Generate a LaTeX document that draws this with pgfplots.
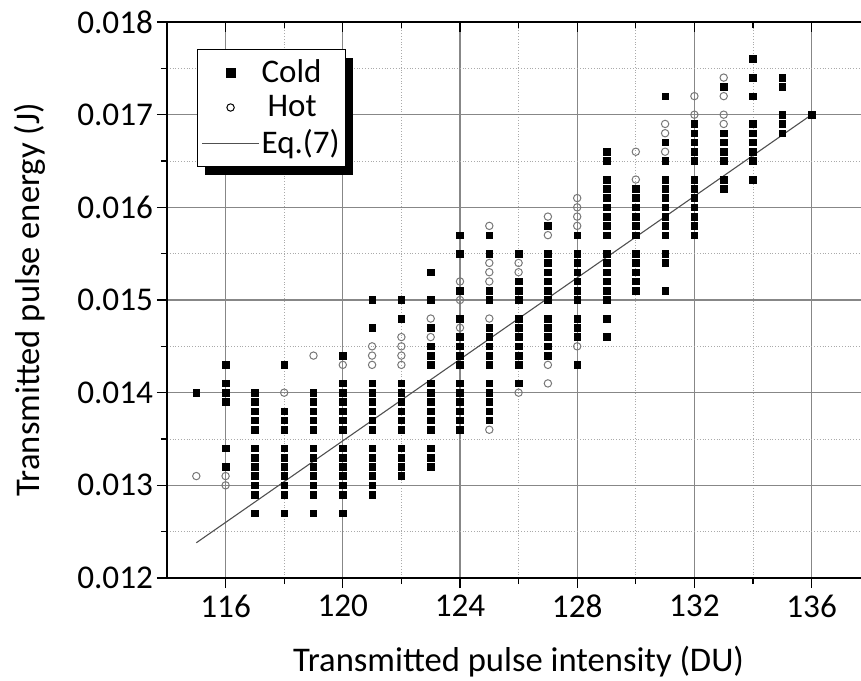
\documentclass[border=0pt]{standalone}
\usepackage{fontspec}
\setmainfont{Carlito}
\usepackage{pgfplots}
\pgfplotsset{compat=1.18}
\usepackage{pgfplotstable}
\usetikzlibrary{shadows}
\makeatletter
\tikzset{nopre/.code={\let\tikz@preactions\pgfutil@empty}}
\makeatother

\pgfplotstableread{
x y
115 0.0140
116 0.0143
116 0.0141
116 0.0140
116 0.0139
116 0.0134
116 0.0132
117 0.0140
117 0.0139
117 0.0138
117 0.0137
117 0.0136
117 0.0134
117 0.0133
117 0.0132
117 0.0131
117 0.0130
117 0.0129
117 0.0127
118 0.0143
118 0.0138
118 0.0137
118 0.0136
118 0.0134
118 0.0133
118 0.0132
118 0.0131
118 0.0130
118 0.0129
118 0.0127
119 0.0140
119 0.0139
119 0.0138
119 0.0137
119 0.0136
119 0.0134
119 0.0133
119 0.0132
119 0.0131
119 0.0130
119 0.0129
119 0.0127
120 0.0144
120 0.0141
120 0.0140
120 0.0139
120 0.0138
120 0.0137
120 0.0136
120 0.0134
120 0.0133
120 0.0132
120 0.0131
120 0.0130
120 0.0129
120 0.0127
121 0.0150
121 0.0147
121 0.0141
121 0.0140
121 0.0139
121 0.0138
121 0.0137
121 0.0136
121 0.0134
121 0.0133
121 0.0132
121 0.0131
121 0.0130
121 0.0129
122 0.0150
122 0.0148
122 0.0141
122 0.0140
122 0.0139
122 0.0138
122 0.0137
122 0.0136
122 0.0134
122 0.0133
122 0.0132
122 0.0131
123 0.0153
123 0.0150
123 0.0147
123 0.0145
123 0.0144
123 0.0143
123 0.0141
123 0.0140
123 0.0139
123 0.0138
123 0.0137
123 0.0136
123 0.0134
123 0.0133
123 0.0132
124 0.0157
124 0.0155
124 0.0151
124 0.0148
124 0.0146
124 0.0145
124 0.0144
124 0.0143
124 0.0141
124 0.0140
124 0.0139
124 0.0138
124 0.0137
124 0.0136
125 0.0157
125 0.0155
125 0.0151
125 0.0150
125 0.0147
125 0.0146
125 0.0145
125 0.0144
125 0.0143
125 0.0141
125 0.0140
125 0.0139
125 0.0138
125 0.0137
126 0.0155
126 0.0152
126 0.0151
126 0.0150
126 0.0148
126 0.0147
126 0.0146
126 0.0145
126 0.0144
126 0.0143
126 0.0141
127 0.0158
127 0.0155
127 0.0154
127 0.0153
127 0.0152
127 0.0151
127 0.0150
127 0.0148
127 0.0147
127 0.0146
127 0.0145
127 0.0144
128 0.0157
128 0.0155
128 0.0154
128 0.0153
128 0.0152
128 0.0151
128 0.0150
128 0.0148
128 0.0147
128 0.0146
128 0.0143
129 0.0166
129 0.0165
129 0.0163
129 0.0162
129 0.0161
129 0.0160
129 0.0159
129 0.0158
129 0.0157
129 0.0155
129 0.0154
129 0.0153
129 0.0152
129 0.0151
129 0.0150
129 0.0148
129 0.0146
130 0.0162
130 0.0161
130 0.0160
130 0.0159
130 0.0158
130 0.0157
130 0.0155
130 0.0154
130 0.0153
130 0.0152
130 0.0151
131 0.0172
131 0.0167
131 0.0165
131 0.0163
131 0.0162
131 0.0161
131 0.0160
131 0.0159
131 0.0158
131 0.0157
131 0.0155
131 0.0154
131 0.0151
132 0.0169
132 0.0168
132 0.0167
132 0.0166
132 0.0165
132 0.0163
132 0.0162
132 0.0161
132 0.0160
132 0.0159
132 0.0158
132 0.0157
133 0.0173
133 0.0168
133 0.0167
133 0.0166
133 0.0165
133 0.0163
133 0.0162
134 0.0176
134 0.0174
134 0.0172
134 0.0169
134 0.0168
134 0.0167
134 0.0166
134 0.0165
134 0.0163
135 0.0174
135 0.0173
135 0.0170
135 0.0169
135 0.0168
136 0.0170
}\cold

\pgfplotstableread{
x y
115 0.0131
116 0.0131
116 0.0130
118 0.0140
119 0.0144
120 0.0143
121 0.0145
121 0.0144
121 0.0143
122 0.0146
122 0.0145
122 0.0144
122 0.0143
123 0.0148
123 0.0146
124 0.0152
124 0.0150
124 0.0147
125 0.0158
125 0.0154
125 0.0153
125 0.0152
125 0.0148
125 0.0136
126 0.0154
126 0.0153
126 0.0140
127 0.0159
127 0.0157
127 0.0143
127 0.0141
128 0.0161
128 0.0160
128 0.0159
128 0.0158
128 0.0145
130 0.0166
130 0.0163
131 0.0169
131 0.0168
131 0.0166
132 0.0172
132 0.0170
133 0.0174
133 0.0172
133 0.0170
133 0.0169
}\hot

\pgfplotstableread{
x y
115 0.01238
136 0.01700
}\eqseven

\definecolor{majgrid}{RGB}{135,135,135}
\definecolor{mingrid}{RGB}{170,170,170}
\definecolor{hotgray}{RGB}{120,120,120}
\definecolor{fitline}{RGB}{80,80,80}

\begin{document}
\begin{tikzpicture}
\begin{axis}[
  width=351.6bp, height=278bp, scale only axis,
  xmin=114, xmax=138, ymin=0.012, ymax=0.018,
  xtick={116,120,124,128,132,136},
  ytick={0.012,0.013,0.014,0.015,0.016,0.017,0.018},
  minor x tick num=1, minor y tick num=1,
  grid=both,
  major grid style={solid, majgrid, line width=0.6bp},
  minor grid style={densely dotted, mingrid, line width=0.5bp},
  axis x line*=bottom, axis y line*=left,
  every outer x axis line/.append style={-},
  every outer y axis line/.append style={-},
  axis line style={-, black, line width=0.8bp},
  tick align=outside,
  major tick length=5bp, minor tick length=3bp,
  tick style={black, line width=0.6bp},
  scaled y ticks=false,
  /pgf/number format/assume math mode=true,
  yticklabel style={/pgf/number format/fixed, /pgf/number format/fixed zerofill, /pgf/number format/precision=3, xshift=1.5bp},
  tick label style={font=\fontsize{16.6bp}{20bp}\selectfont},
  label style={font=\fontsize{17.3bp}{20bp}\selectfont},
  xlabel={Transmitted pulse intensity (DU)},
  ylabel={Transmitted pulse energy (J)},
  xlabel style={at={(axis description cs:0.5,-0.151)}, anchor=center},
  ylabel style={at={(axis description cs:-0.195,0.5)}, anchor=center},
  legend image code/.code={\draw[nopre,mark repeat=2,mark phase=2,#1] plot coordinates {(0bp,0bp) (14.25bp,0bp) (28.5bp,0bp)};},
  legend style={at={(axis description cs:0.0427,0.9514)}, anchor=north west,
    draw=black, line width=0.5bp, fill=white,
    font=\fontsize{16.5bp}{20bp}\selectfont,
    drop shadow={shadow xshift=3.5bp, shadow yshift=-4bp, fill=black, opacity=1},
    inner xsep=2bp, inner ysep=3.5bp, row sep=2bp,
    nodes={inner xsep=1bp, inner ysep=1.5bp}},
  legend cell align=left,
]
\coordinate (bl) at (rel axis cs:0,0);
\addplot[only marks, mark=square*, mark size=1.65bp, mark options={fill=black, draw=black, line width=0.3bp},
  legend image post style={mark size=2.2bp}] table[x=x,y=y] {\cold};
\addlegendentry{Cold}
\addplot[only marks, mark=o, mark size=1.85bp, mark options={draw=hotgray, line width=0.5bp},
  legend image post style={mark options={draw=black}}] table[x=x,y=y] {\hot};
\addlegendentry{\hspace{3bp}Hot}
\addplot[fitline, line width=0.55bp] table[x=x,y=y] {\eqseven};
\addlegendentry{Eq.(7)}
\end{axis}
\begin{axis}[
  width=351.6bp, height=278bp, scale only axis,
  xmin=114, xmax=138, ymin=0.012, ymax=0.018,
  axis x line*=top, axis y line=none,
  every outer x axis line/.append style={-},
  axis line style={-, black, line width=0.8bp},
  xtick={116,120,124,128,132,136}, minor x tick num=1,
  xticklabels={},
  tick align=inside,
  major tick length=5bp, minor tick length=3bp,
  tick style={black, line width=0.6bp},
]
\addplot[draw=none] coordinates {(120,0.015)};
\end{axis}
\pgfresetboundingbox
\path[use as bounding box] ([shift={(-83.5bp,-51.5bp)}]bl) rectangle ([shift={(347bp,289bp)}]bl);
\end{tikzpicture}
\end{document}
